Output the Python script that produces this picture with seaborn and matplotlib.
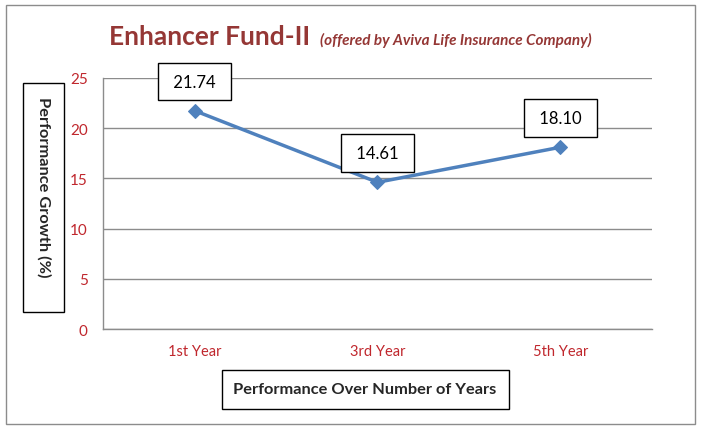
import matplotlib
matplotlib.use("Agg")
import matplotlib.pyplot as plt
import seaborn as sns
from matplotlib.patches import Rectangle

# Chart data
years = ["1st Year", "3rd Year", "5th Year"]
growth = [21.74, 14.61, 18.10]
label_text = ["21.74", "14.61", "18.10"]
y_ticks = [0, 5, 10, 15, 20, 25]

line_color = "#4F81BD"
tick_color = "#C0272D"
title_color = "#953735"
grid_color = "#8C8C8C"

sns.set_style("white")
plt.rcParams["font.family"] = ["Lato", "DejaVu Sans"]

fig = plt.figure(figsize=(7.01, 4.31), dpi=100)
ax = fig.add_axes([0.147, 0.234, 0.783, 0.583])

# The line with diamond markers
sns.lineplot(x=years, y=growth, ax=ax, color=line_color, linewidth=2.5,
             marker="D", markersize=7, markeredgecolor=line_color, sort=False)

ax.set_xlim(-0.5, 2.5)
ax.set_ylim(0, 25)
ax.set_yticks(y_ticks)
ax.set_xticks(range(len(years)))
ax.set_xticklabels(years)
ax.set_xticks([0.5, 1.5], minor=True)
ax.tick_params(axis="x", which="major", length=0, pad=11, colors=tick_color, labelsize=10.5)
ax.tick_params(axis="x", which="minor", length=5, color=grid_color, width=1)
ax.tick_params(axis="y", length=5, color=grid_color, width=1, colors=tick_color, labelsize=11, pad=6)
for lbl in ax.get_yticklabels():
    lbl.set_color(tick_color)
ax.grid(axis="y", color=grid_color, linewidth=1)
ax.set_axisbelow(True)
for side in ["top", "right"]:
    ax.spines[side].set_visible(False)
for side in ["left", "bottom"]:
    ax.spines[side].set_color(grid_color)
    ax.spines[side].set_linewidth(1)
ax.set_xlabel("")
ax.set_ylabel("")

# Data labels in boxes
for i, (v, t) in enumerate(zip(growth, label_text)):
    ax.annotate(" " + t + " ", (i, v), xytext=(0, 29), textcoords="offset pixels",
                ha="center", va="center", fontsize=12, color="black",
                bbox=dict(boxstyle="square,pad=0.65", fc="white", ec="black", lw=1))

# Title
fig.text(109 / 701, 1 - 45 / 431, "Enhancer Fund-II", fontsize=19, fontweight="bold",
         color=title_color, ha="left", va="baseline")
fig.text(320 / 701, 1 - 45 / 431, "(offered by Aviva Life Insurance Company)", fontsize=11,
         fontweight="bold", style="italic", color=title_color, ha="left", va="baseline")

# Axis titles in boxes
fig.patches.append(Rectangle((23 / 701, 1 - 313 / 431), 41 / 701, 229 / 431,
                             transform=fig.transFigure, fc="white", ec="black", lw=1))
fig.text(43.5 / 701, 1 - 187 / 431, "Performance Growth (%)", rotation=270, fontsize=11.8,
         fontweight="bold", ha="center", va="center")
fig.patches.append(Rectangle((222 / 701, 1 - 410 / 431), 287 / 701, 39 / 431,
                             transform=fig.transFigure, fc="white", ec="black", lw=1))
fig.text(365 / 701, 1 - 390 / 431, "Performance Over Number of Years", fontsize=11.8,
         fontweight="bold", ha="center", va="center")

# Outer border
fig.patches.append(Rectangle((6 / 701, 6 / 431), 689 / 701, 419 / 431,
                             transform=fig.transFigure, fc="none", ec="#8C8C8C", lw=1))

fig.savefig("out.png", dpi=100)
